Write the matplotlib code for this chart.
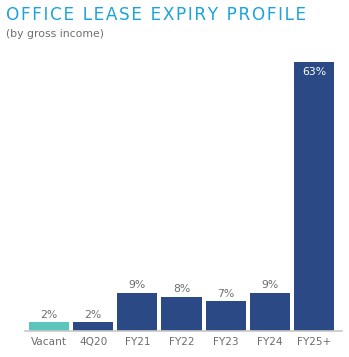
import matplotlib
matplotlib.use("Agg")
import matplotlib.pyplot as plt

categories = ["Vacant", "4Q20", "FY21", "FY22", "FY23", "FY24", "FY25+"]
values = [2, 2, 9, 8, 7, 9, 63]

TEAL = "#5BC5BE"
NAVY = "#2B4A85"
TITLE_BLUE = "#1BA4DB"
GREY = "#6E6E6E"

fig = plt.figure(figsize=(3.49, 3.57), dpi=100)
ax = fig.add_axes([25 / 349, 26 / 357, 317 / 349, 276 / 357])

colors = [TEAL] + [NAVY] * (len(values) - 1)
x = range(len(categories))
bars = ax.bar(x, values, width=0.91, color=colors, zorder=2)

for b, v in zip(bars, values):
    cx = b.get_x() + b.get_width() / 2
    if v > 50:
        ax.text(cx, v - 1.2, f"{v}%", ha="center", va="top",
                color="white", fontsize=7.8)
    else:
        ax.text(cx, v + 0.6, f"{v}%", ha="center", va="bottom",
                color=GREY, fontsize=7.8)

ax.set_xlim(-0.545, 6.636)
ax.set_ylim(0, 64.6)
ax.set_xticks(list(x))
ax.set_xticklabels(categories, fontsize=7.6, color=GREY)
ax.tick_params(axis="x", length=0, pad=4)
ax.set_yticks([])
for s in ("top", "right", "left"):
    ax.spines[s].set_visible(False)
ax.spines["bottom"].set_color("#C8C8C8")
ax.spines["bottom"].set_linewidth(1.2)
ax.patch.set_alpha(0)

# letter-spaced title (hair spaces between letters, wider word gaps)
title = "\u200a \u200a".join("\u200a".join(w) for w in "OFFICE LEASE EXPIRY PROFILE".split())
fig.text(6 / 349, 1 - 15 / 357, title,
         fontsize=12.2, color=TITLE_BLUE, va="center", ha="left")
fig.text(6 / 349, 1 - 34 / 357, "(by gross income)",
         fontsize=7.8, color=GREY, va="center", ha="left")

fig.savefig("out.png", dpi=100)
